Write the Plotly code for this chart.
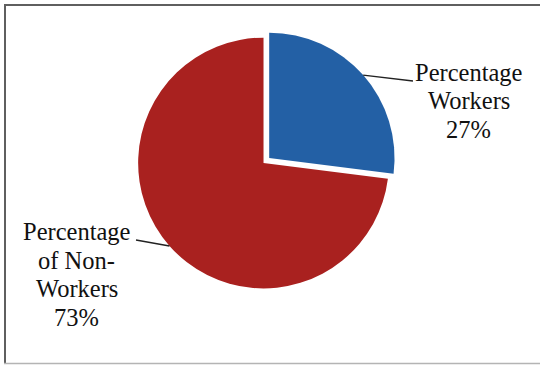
import math
import plotly.graph_objects as go

# Data
labels = ["Percentage Workers", "Percentage of Non-Workers"]
values = [27, 73]
label_lines = [["Percentage", "Workers", "27%"],
               ["Percentage", "of Non-", "Workers", "73%"]]
colors = ["#2360A5", "#A9211F"]
pulls = [0.06, 0.0]

W, H = 540, 365
dom_x = [0.2419, 0.7341]
dom_y = [0.1893, 0.9175]

fig = go.Figure(go.Pie(
    labels=labels,
    values=values,
    marker=dict(colors=colors, line=dict(width=0)),
    pull=pulls,
    sort=False,
    direction="clockwise",
    rotation=0,
    textinfo="none",
    hoverinfo="label+percent",
    showlegend=False,
    domain=dict(x=dom_x, y=dom_y),
))

# pie geometry in pixels (same rules plotly uses to size the pie)
cx = W * (dom_x[0] + dom_x[1]) / 2
cy = H * (1 - (dom_y[0] + dom_y[1]) / 2)
r = min(W * (dom_x[1] - dom_x[0]), H * (dom_y[1] - dom_y[0])) / 2 / (1 + max(pulls))


def px(x):
    return x / W


def py(y):
    return 1 - y / H


total = sum(values)
cum = 0.0
edge_pts = []
for v, p in zip(values, pulls):
    theta = 2 * math.pi * (cum + v / 2) / total
    dx, dy = math.sin(theta), -math.cos(theta)
    ox, oy = cx + p * r * dx, cy + p * r * dy
    edge_pts.append((ox + r * dx, oy + r * dy))
    cum += v

# label placement: centre x, first baseline, line spacing, leader end point
font_size = 24.5
spacing = 28.5
serif = "Times New Roman"
label_pos = [
    dict(x=468.5, base=80.5, end=(413, 81)),
    dict(x=76.5, base=240.0, end=(136, 240)),
]

shapes = []
annotations = []
for lines, pos, pt in zip(label_lines, label_pos, edge_pts):
    for i, t in enumerate(lines):
        b = pos["base"] + i * spacing
        annotations.append(dict(
            x=px(pos["x"]), y=py(b - 0.33 * font_size),
            xref="paper", yref="paper", xanchor="center", yanchor="middle",
            text=t, showarrow=False,
            font=dict(family=serif, size=font_size, color="#111111"),
        ))
    shapes.append(dict(
        type="line", xref="paper", yref="paper",
        x0=px(pt[0]), y0=py(pt[1]), x1=px(pos["end"][0]), y1=py(pos["end"][1]),
        line=dict(color="#222222", width=1.5),
    ))

# frame lines
shapes += [
    dict(type="line", xref="paper", yref="paper", x0=px(4), x1=1, y0=py(5), y1=py(5),
         line=dict(color="#5f5f5f", width=2)),
    dict(type="line", xref="paper", yref="paper", x0=px(5), x1=px(5), y0=py(4), y1=py(364),
         line=dict(color="#5f5f5f", width=2)),
    dict(type="line", xref="paper", yref="paper", x0=px(4), x1=1, y0=py(363.5), y1=py(363.5),
         line=dict(color="#b4b4b4", width=1.5)),
]

fig.update_layout(
    width=W, height=H,
    margin=dict(l=0, r=0, t=0, b=0),
    paper_bgcolor="white",
    plot_bgcolor="white",
    shapes=shapes,
    annotations=annotations,
)

fig.write_html("out.html")
